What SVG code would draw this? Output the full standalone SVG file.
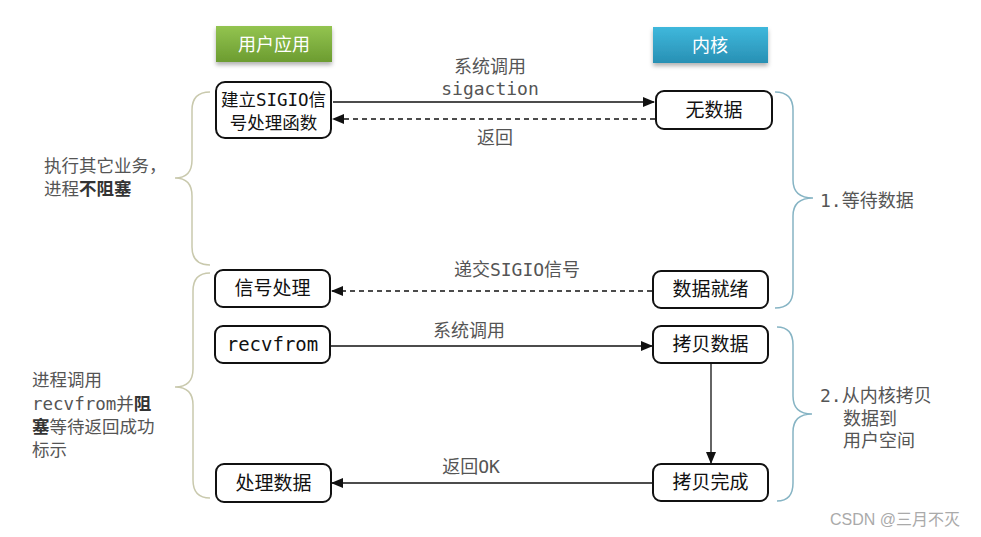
<svg xmlns="http://www.w3.org/2000/svg" width="981" height="537" viewBox="0 0 981 537">
<style>
.node rect{fill:#fff;stroke:#111;stroke-width:2}
.nt{font-family:"DejaVu Sans Mono","Noto Sans CJK SC",monospace;font-size:19px;fill:#111;text-anchor:middle}
.nt.sm{font-size:17.5px}
.lbl{font-family:"DejaVu Sans Mono","Noto Sans CJK SC",monospace;font-size:18px;fill:#555;text-anchor:middle}
.side{font-family:"DejaVu Sans Mono","Noto Sans CJK SC",monospace;font-size:17.5px;fill:#555}
.bold{font-weight:bold;fill:#333}
.hdr{font-family:"Noto Sans CJK SC",sans-serif;font-size:18px;fill:#fff;text-anchor:middle}
.solid{stroke:#111;stroke-width:1.3;fill:none;marker-end:url(#ah)}
.dash{stroke:#111;stroke-width:1.3;fill:none;stroke-dasharray:5 4;marker-end:url(#ah)}
.braceL{fill:none;stroke:#c9c9ad;stroke-width:1.5}
.braceR{fill:none;stroke:#86b4c4;stroke-width:1.5}
</style>
<defs>
<marker id="ah" markerWidth="12" markerHeight="10" refX="11" refY="5" orient="auto" markerUnits="userSpaceOnUse">
<path d="M0,0 L12,5 L0,10 Z" fill="#111"/>
</marker>
<linearGradient id="gG" x1="0" y1="0" x2="0" y2="1">
<stop offset="0" stop-color="#93c450"/>
<stop offset="1" stop-color="#6c9c30"/>
</linearGradient>
<linearGradient id="gB" x1="0" y1="0" x2="0" y2="1">
<stop offset="0" stop-color="#3fb8dc"/>
<stop offset="1" stop-color="#2890b4"/>
</linearGradient>
<filter id="sh" x="-10%" y="-20%" width="120%" height="160%">
<feDropShadow dx="0" dy="3" stdDeviation="2" flood-color="#000" flood-opacity="0.3"/>
</filter>
</defs>
<rect width="981" height="537" fill="#fff"/>

<g id="hdr-user">
<rect x="216" y="26" width="116" height="36" fill="url(#gG)" filter="url(#sh)"/>
<text class="hdr" x="274" y="51">用户应用</text>
</g>
<g id="hdr-kernel">
<rect x="653" y="27" width="115" height="36" fill="url(#gB)" filter="url(#sh)"/>
<text class="hdr" x="710" y="52">内核</text>
</g>

<g id="braces">
<path class="braceL" d="M210,92 Q192,92 192,110 L192,160 Q192,178 175,178 Q192,178 192,196 L192,247 Q192,265 210,265"/>
<path class="braceL" d="M210,273 Q193,273 193,291 L193,369 Q193,387 175,387 Q193,387 193,405 L193,480 Q193,498 210,498"/>
<path class="braceR" d="M775,92 Q793,92 793,110 L793,180 Q793,198 813,198 Q793,198 793,216 L793,290 Q793,308 775,308"/>
<path class="braceR" d="M777,327 Q793,327 793,345 L793,396 Q793,414 812,414 Q793,414 793,432 L793,483 Q793,501 777,501"/>
</g>

<g id="n-setup" class="node">
<rect x="216" y="82" width="115" height="56" rx="9"/>
<text class="nt sm" x="273.5" y="106">建立SIGIO信</text>
<text class="nt sm" x="273.5" y="129">号处理函数</text>
</g>
<g id="n-nodata" class="node">
<rect x="656" y="91" width="116" height="38" rx="8"/>
<text class="nt" x="714" y="117">无数据</text>
</g>
<g id="n-sighandle" class="node">
<rect x="215" y="270" width="115" height="37" rx="8"/>
<text class="nt" x="272.5" y="295">信号处理</text>
</g>
<g id="n-ready" class="node">
<rect x="653" y="271" width="115" height="37" rx="8"/>
<text class="nt" x="710.5" y="296">数据就绪</text>
</g>
<g id="n-recvfrom" class="node">
<rect x="215" y="326" width="115" height="37" rx="8"/>
<text class="nt" x="272.5" y="351">recvfrom</text>
</g>
<g id="n-copy" class="node">
<rect x="653" y="326" width="115" height="37" rx="8"/>
<text class="nt" x="710.5" y="351">拷贝数据</text>
</g>
<g id="n-process" class="node">
<rect x="216" y="464" width="115" height="38" rx="8"/>
<text class="nt" x="273.5" y="490">处理数据</text>
</g>
<g id="n-copydone" class="node">
<rect x="653" y="464" width="115" height="37" rx="8"/>
<text class="nt" x="710.5" y="489">拷贝完成</text>
</g>

<g id="connectors">
<line class="solid" x1="333" y1="102" x2="654" y2="102"/>
<line class="dash" x1="655" y1="119" x2="333" y2="119"/>
<line class="dash" x1="652" y1="291" x2="332" y2="291"/>
<line class="solid" x1="331" y1="346" x2="652" y2="346"/>
<line class="solid" x1="711" y1="364" x2="711" y2="463"/>
<line class="solid" x1="652" y1="483" x2="332" y2="483"/>
</g>

<g id="labels">
<text class="lbl" x="490" y="73">系统调用</text>
<text class="lbl" x="490" y="95">sigaction</text>
<text class="lbl" x="495" y="144">返回</text>
<text class="lbl" x="517" y="276">递交SIGIO信号</text>
<text class="lbl" x="469" y="337">系统调用</text>
<text class="lbl" x="471" y="473">返回OK</text>
</g>

<g id="side-text">
<text class="side" x="44" y="172">执行其它业务，</text>
<text class="side" x="44" y="195">进程<tspan class="bold">不阻塞</tspan></text>
<text class="side" x="32" y="386">进程调用</text>
<text class="side" x="32" y="410">recvfrom并<tspan class="bold">阻</tspan></text>
<text class="side" x="32" y="433"><tspan class="bold">塞</tspan>等待返回成功</text>
<text class="side" x="32" y="456">标示</text>
<text class="lbl" x="820" y="207" style="text-anchor:start">1.等待数据</text>
<text class="lbl" x="820" y="402" style="text-anchor:start">2.从内核拷贝</text>
<text class="lbl" x="843" y="425" style="text-anchor:start">数据到</text>
<text class="lbl" x="843" y="447" style="text-anchor:start">用户空间</text>
</g>

<text x="830" y="525" font-family="'Liberation Sans','Noto Sans CJK SC',sans-serif" font-size="16" fill="#aaa">CSDN @三月不灭</text>
</svg>
